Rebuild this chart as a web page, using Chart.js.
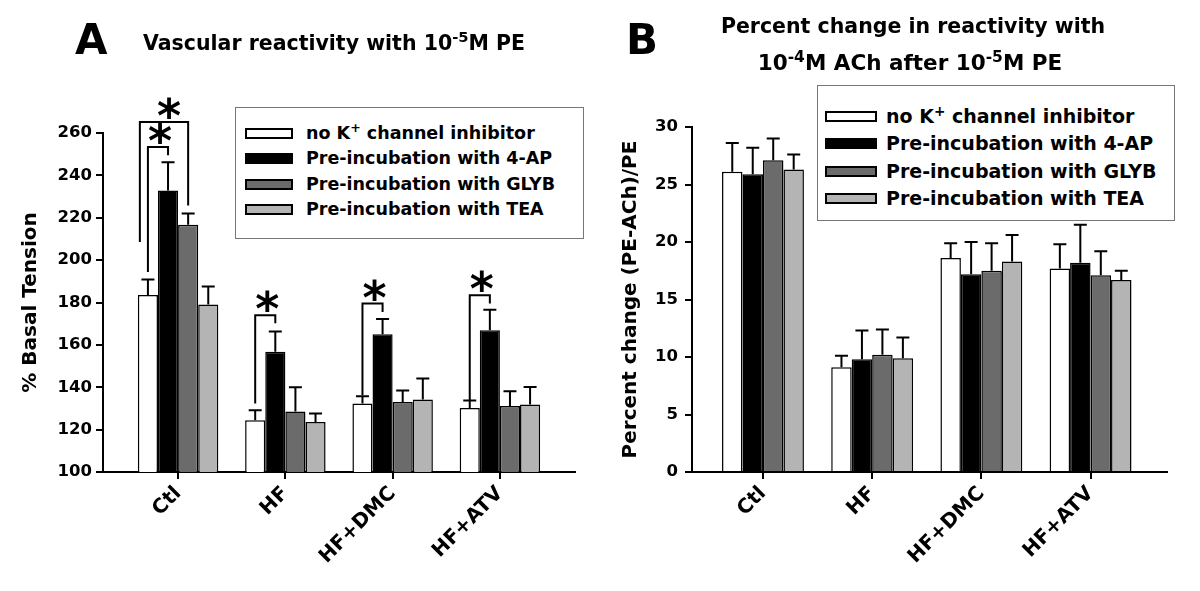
<!DOCTYPE html>
<html>
<head>
<meta charset="utf-8">
<script src="https://cdn.jsdelivr.net/npm/chart.js@4.4.0/dist/chart.umd.min.js"></script>
<style>
  html, body { margin: 0; padding: 0; background: #fff; }
  #wrap { position: relative; width: 1200px; height: 591px; overflow: hidden; font-family: "DejaVu Sans", sans-serif; font-weight: bold; color: #000; }
  .panel { position: absolute; top: 0; width: 600px; height: 591px; }
  .txt { position: absolute; white-space: nowrap; }
  sup { font-size: 0.72em; vertical-align: 0; position: relative; top: -0.5em; line-height: 0; }
  .legend { position: absolute; border: 1.5px solid #777; box-sizing: border-box; background: #fff; }
  .sw { position: absolute; box-sizing: border-box; border: 2px solid #000; }
</style>
</head>
<body>
<div id="wrap">
  <div class="panel" style="left:0"><canvas id="chartA"></canvas></div>
  <div class="panel" style="left:600px"><canvas id="chartB"></canvas></div>
</div>
<script>
// categories and series
const categories = ['Ctl', 'HF', 'HF+DMC', 'HF+ATV'];
const seriesNames = ['no K<sup>+</sup> channel inhibitor', 'Pre-incubation with 4-AP', 'Pre-incubation with GLYB', 'Pre-incubation with TEA'];
const seriesColors = ['#ffffff', '#000000', '#6b6b6b', '#b4b4b4'];

// panel A: % basal tension
const tensionNone = [183.5, 124.4, 132.3, 130.2];
const tension4AP = [232.9, 156.8, 165.0, 166.9];
const tensionGLYB = [216.7, 128.6, 133.0, 131.1];
const tensionTEA = [179.1, 123.6, 134.2, 131.8];
const tensionNoneErr = [7.4, 4.7, 3.4, 3.6];
const tension4APErr = [13.3, 9.5, 7.2, 9.7];
const tensionGLYBErr = [5.3, 11.4, 5.5, 7.0];
const tensionTEAErr = [8.5, 4.0, 9.9, 8.3];

// significance brackets on panel A
const sigGroup = [0, 0, 1, 2, 3];
const sigFrom = [0, 0, 0, 0, 0];
const sigTo = [2, 1, 1, 1, 1];
const sigTop = [265.2, 253.4, 174.0, 179.5, 183.4];
const sigLeftEnd = [208.5, 194.4, 132.3, 136.2, 133.8];
const sigRightEnd = [225.8, 249.5, 170.2, 175.5, 179.5];
const sigOuter = [true, false, false, false, false];

// panel B: percent change (PE-ACh)/PE
const changeNone = [26.1, 9.1, 18.6, 17.7];
const change4AP = [25.9, 9.8, 17.2, 18.2];
const changeGLYB = [27.1, 10.2, 17.5, 17.1];
const changeTEA = [26.3, 9.9, 18.3, 16.7];
const changeNoneErr = [2.5, 1.0, 1.3, 2.1];
const change4APErr = [2.3, 2.5, 2.8, 3.3];
const changeGLYBErr = [1.9, 2.2, 2.4, 2.1];
const changeTEAErr = [1.3, 1.8, 2.3, 0.8];

const FONT = 'DejaVu Sans';

const errorBars = {
  id: 'errorBars',
  afterDatasetsDraw(chart) {
    const ctx = chart.ctx, y = chart.scales.y;
    ctx.save();
    ctx.strokeStyle = '#000';
    ctx.lineWidth = 2;
    chart.data.datasets.forEach((ds, i) => {
      chart.getDatasetMeta(i).data.forEach((bar, j) => {
        const top = y.getPixelForValue(ds.data[j].y + ds.errors[j]);
        ctx.beginPath();
        ctx.moveTo(bar.x, bar.y);
        ctx.lineTo(bar.x, top);
        ctx.moveTo(bar.x - 6.5, top);
        ctx.lineTo(bar.x + 6.5, top);
        ctx.stroke();
      });
    });
    ctx.restore();
  }
};

const brackets = {
  id: 'brackets',
  afterDatasetsDraw(chart, args, opts) {
    if (!opts.on) return;
    const ctx = chart.ctx, y = chart.scales.y;
    ctx.save();
    ctx.strokeStyle = '#000';
    ctx.fillStyle = '#000';
    ctx.lineWidth = 2;
    ctx.font = 'bold 46px ' + FONT;
    ctx.textAlign = 'center';
    ctx.textBaseline = 'alphabetic';
    sigGroup.forEach((g, k) => {
      const b1 = chart.getDatasetMeta(sigFrom[k]).data[g];
      const b2 = chart.getDatasetMeta(sigTo[k]).data[g];
      const x1 = sigOuter[k] ? b1.x - b1.width / 2 + 2 : b1.x;
      const x2 = b2.x;
      const yt = y.getPixelForValue(sigTop[k]);
      ctx.beginPath();
      ctx.moveTo(x1, y.getPixelForValue(sigLeftEnd[k]));
      ctx.lineTo(x1, yt);
      ctx.lineTo(x2, yt);
      ctx.lineTo(x2, y.getPixelForValue(sigRightEnd[k]));
      ctx.stroke();
      ctx.fillText('*', (x1 + x2) / 2 + (sigOuter[k] ? 5 : 2), yt + 10);
    });
    ctx.restore();
  }
};

function makeChart(id, sets, errs, p) {
  return new Chart(document.getElementById(id), {
    type: 'bar',
    data: {
      datasets: sets.map((vals, i) => ({
        label: seriesNames[i],
        data: vals.map((v, j) => ({ x: j, y: v })),
        errors: errs[i],
        backgroundColor: seriesColors[i],
        borderColor: '#000',
        borderWidth: 1.5,
        categoryPercentage: 0.75,
        barPercentage: 1.0
      }))
    },
    options: {
      responsive: true,
      maintainAspectRatio: false,
      animation: false,
      layout: { padding: p.padding },
      plugins: {
        legend: { display: false },
        tooltip: { enabled: false },
        brackets: { on: p.brackets }
      },
      scales: {
        x: {
          type: 'linear',
          min: p.xMin,
          max: p.xMax,
          offset: false,
          afterBuildTicks: axis => { axis.ticks = categories.map((c, i) => ({ value: i })); },
          afterFit: s => { s.height = 100; },
          grid: { drawOnChartArea: false, drawTicks: true, tickLength: 7, color: '#000', lineWidth: 2, offset: false },
          border: { color: '#000', width: 2 },
          ticks: {
            autoSkip: false,
            minRotation: 45,
            maxRotation: 45,
            padding: 3,
            color: '#000',
            font: { family: FONT, size: 20, weight: 'bold' },
            callback: v => categories[v]
          }
        },
        y: {
          min: p.yMin,
          max: p.yMax,
          afterFit: s => { s.width = p.yWidth; },
          grid: { drawOnChartArea: false, drawTicks: true, tickLength: 7, color: '#000', lineWidth: 2 },
          border: { color: '#000', width: 2 },
          ticks: {
            stepSize: p.step,
            padding: p.tickPad,
            color: '#000',
            font: { family: FONT, size: 16.5, weight: 'bold' }
          },
          title: {
            display: true,
            text: p.yTitle,
            color: '#000',
            padding: { top: 19, bottom: 0 },
            font: { family: FONT, size: 20, weight: 'bold' }
          }
        }
      }
    },
    plugins: [errorBars, brackets]
  });
}

makeChart('chartA',
  [tensionNone, tension4AP, tensionGLYB, tensionTEA],
  [tensionNoneErr, tension4APErr, tensionGLYBErr, tensionTEAErr],
  { padding: { left: 0, right: 25, top: 133, bottom: 19 }, yWidth: 103, yMin: 100, yMax: 260, step: 20,
    xMin: -0.7, xMax: 3.7, tickPad: 4, yTitle: '% Basal Tension', brackets: true });

makeChart('chartB',
  [changeNone, change4AP, changeGLYB, changeTEA],
  [changeNoneErr, change4APErr, changeGLYBErr, changeTEAErr],
  { padding: { left: 0, right: 33, top: 127, bottom: 19 }, yWidth: 92, yMin: 0, yMax: 30, step: 5,
    xMin: -0.65, xMax: 3.7, tickPad: 7, yTitle: 'Percent change (PE-ACh)/PE', brackets: false });

// titles and legends (html text)
const wrap = document.getElementById('wrap');
function addText(html, x, baseline, size, center) {
  const d = document.createElement('div');
  d.className = 'txt';
  d.innerHTML = html;
  d.style.fontSize = size + 'px';
  d.style.lineHeight = size + 'px';
  d.style.top = (baseline - 0.846 * size) + 'px';
  if (center) { d.style.left = (x - 300) + 'px'; d.style.width = '600px'; d.style.textAlign = 'center'; }
  else d.style.left = x + 'px';
  wrap.appendChild(d);
}
addText('A', 75, 55, 42);
addText('Vascular reactivity with 10<sup>-5</sup>M PE', 143, 50, 20.5);
addText('B', 626, 55, 42);
addText('Percent change in reactivity with', 913, 33, 20.5, true);
addText('10<sup>-4</sup>M ACh after 10<sup>-5</sup>M PE', 910, 70, 21.5, true);

function addLegend(box, swX, swW, txtX, rows, fs) {
  const l = document.createElement('div');
  l.className = 'legend';
  l.style.left = box[0] + 'px'; l.style.top = box[1] + 'px';
  l.style.width = (box[2] - box[0]) + 'px'; l.style.height = (box[3] - box[1]) + 'px';
  wrap.appendChild(l);
  seriesNames.forEach((name, i) => {
    const s = document.createElement('div');
    s.className = 'sw';
    s.style.left = swX + 'px'; s.style.top = (rows[i] - 5.5) + 'px';
    s.style.width = swW + 'px'; s.style.height = '11px';
    s.style.background = seriesColors[i];
    wrap.appendChild(s);
    addText(name, txtX, rows[i] + 0.365 * fs, fs);
  });
}
addLegend([235, 107, 584, 239], 245, 48, 306, [133, 158.5, 184, 209.5], 17.5);
addLegend([817, 85, 1175, 221], 825, 52, 886, [116, 143.5, 171, 198.5], 19);
</script>
</body>
</html>
